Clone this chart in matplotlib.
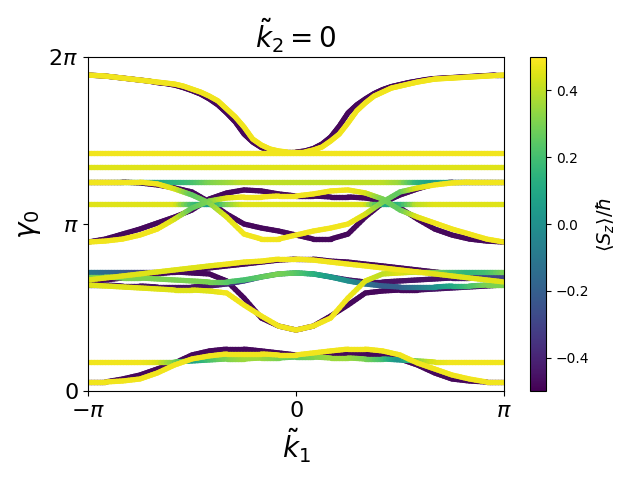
import numpy as np
import matplotlib
matplotlib.use("Agg")
import matplotlib.pyplot as plt
from matplotlib.collections import LineCollection
from matplotlib.colors import Normalize

# k1 sample positions in units of pi (step pi/12); top band read at step pi/24
k_over_pi = np.arange(-12, 13) / 12.0
k_top_over_pi = np.arange(-24, 25) / 24.0

# quasi-energies gamma_0 in units of pi; _up = spin up (yellow), _dn = spin down (purple)
top_up = [1.892,1.889,1.886,1.880,1.874,1.868,1.862,1.856,1.850,1.844,1.838,1.826,1.808,1.790,1.766,1.737,1.689,1.641,1.581,1.509,1.473,1.449,1.437,1.431,1.431,
          1.431,1.443,1.461,1.497,1.539,1.605,1.677,1.725,1.766,1.790,1.814,1.826,1.838,1.850,1.859,1.868,1.871,1.874,1.877,1.880,1.883,1.886,1.889,1.892]
top_dn = [1.892,1.889,1.886,1.880,1.874,1.868,1.862,1.856,1.847,1.841,1.832,1.817,1.799,1.778,1.749,1.713,1.665,1.611,1.539,1.491,1.458,1.440,1.431,1.431,1.431,
          1.437,1.452,1.479,1.521,1.587,1.665,1.713,1.749,1.781,1.805,1.823,1.835,1.847,1.856,1.865,1.871,1.874,1.877,1.880,1.883,1.886,1.889,1.892,1.892]

flat_a = 1.425
flat_b = 1.341
flat_c = 1.251
flat_d = 1.120
flat_c_spin = [0.40,0.45,0.20,0.10,0.10,0.15,0.20,0.30,0.35,0.40,0.40,0.40,0.40,0.40,0.40,0.40,0.40,0.40,0.35,0.15,0.05,0.15,0.30,0.35,0.35]
flat_d_spin = [0.45,0.45,0.45,0.45,0.45,0.45,0.20,0.05,0.30,0.45,0.45,0.45,0.45,0.45,0.45,0.45,0.45,0.10,0.15,0.40,0.45,0.45,0.45,0.45,0.45]

dip_up = [1.251,1.251,1.251,1.251,1.240,1.210,1.174,1.126,1.042,0.940,0.910,0.910,0.934,0.958,0.976,1.000,1.060,1.132,1.192,1.216,1.234,1.246,1.251,1.251,1.251]
dip_dn = [1.251,1.251,1.251,1.246,1.234,1.216,1.192,1.132,1.060,1.000,0.976,0.958,0.934,0.910,0.910,0.940,1.042,1.126,1.174,1.210,1.240,1.251,1.251,1.251,1.251]
hump_up = [0.892,0.898,0.910,0.934,0.970,1.030,1.096,1.138,1.156,1.162,1.162,1.168,1.168,1.180,1.198,1.204,1.186,1.150,1.084,1.042,1.006,0.970,0.940,0.910,0.892]
hump_dn = [0.892,0.910,0.940,0.970,1.006,1.042,1.084,1.150,1.186,1.204,1.198,1.180,1.168,1.168,1.162,1.162,1.156,1.138,1.096,1.030,0.970,0.934,0.910,0.898,0.892]
cross_up_spin = [0.48,0.48,0.48,0.48,0.48,0.45,0.25,0.30,0.45,0.48,0.48,0.48,0.48,0.48,0.48,0.48,0.45,0.30,0.25,0.45,0.48,0.48,0.48,0.48,0.48]

ca_up = [0.665,0.677,0.689,0.701,0.713,0.725,0.737,0.749,0.760,0.772,0.778,0.790,0.790,0.784,0.772,0.760,0.749,0.737,0.725,0.713,0.701,0.689,0.677,0.665,0.653]
ca_dn = [0.653,0.665,0.677,0.689,0.701,0.713,0.725,0.737,0.749,0.760,0.772,0.784,0.790,0.790,0.778,0.772,0.760,0.749,0.737,0.725,0.713,0.701,0.689,0.677,0.665]
cd_up = [0.635,0.629,0.623,0.617,0.611,0.605,0.605,0.599,0.587,0.515,0.449,0.389,0.365,0.389,0.437,0.557,0.659,0.701,0.707,0.713,0.713,0.713,0.713,0.713,0.713]
cd_dn = [0.713,0.713,0.713,0.713,0.713,0.713,0.707,0.701,0.659,0.557,0.437,0.389,0.365,0.389,0.449,0.515,0.587,0.599,0.605,0.605,0.611,0.617,0.623,0.629,0.635]
cm_up = [0.683,0.683,0.677,0.677,0.671,0.665,0.659,0.653,0.653,0.665,0.683,0.701,0.707,0.701,0.683,0.659,0.641,0.629,0.623,0.623,0.623,0.629,0.629,0.635,0.635]
cm_dn = [0.635,0.635,0.629,0.629,0.623,0.623,0.623,0.629,0.641,0.659,0.683,0.701,0.707,0.701,0.683,0.665,0.653,0.653,0.659,0.665,0.671,0.677,0.677,0.683,0.683]
cd_up_spin = [0.45,0.45,0.45,0.45,0.45,0.45,0.45,0.45,0.48,0.48,0.48,0.48,0.48,0.48,0.48,0.48,0.45,0.40,0.45,0.40,0.30,0.20,0.15,0.20,0.30]
cd_dn_spin = [-0.10,-0.15,-0.20,-0.30,-0.40,-0.45,-0.48,-0.48,-0.48,-0.48,-0.48,-0.48,-0.48,-0.48,-0.48,-0.48,-0.48,-0.48,-0.48,-0.48,-0.45,-0.45,-0.45,-0.45,-0.45]
cm_up_spin = [0.30,0.30,0.30,0.30,0.30,0.30,0.30,0.30,0.25,0.20,0.25,0.30,0.25,0.15,0.05,0.00,-0.10,-0.20,-0.20,-0.10,0.00,0.10,0.20,0.30,0.30]
cm_dn_spin = [-0.30,-0.40,-0.45,-0.45,-0.45,-0.45,-0.45,-0.45,-0.40,-0.30,-0.20,-0.10,0.00,-0.10,-0.30,-0.45,-0.45,-0.45,-0.45,-0.45,-0.45,-0.45,-0.40,-0.30,-0.30]
ca_up_spin = [0.45,0.45,0.45,0.45,0.45,0.45,0.45,0.45,0.48,0.48,0.48,0.48,0.48,0.48,0.48,0.48,0.48,0.48,0.48,0.48,0.45,0.45,0.45,0.45,0.45]

low_up = [0.054,0.054,0.060,0.072,0.108,0.156,0.192,0.210,0.222,0.222,0.222,0.216,0.216,0.228,0.240,0.251,0.251,0.240,0.216,0.168,0.132,0.096,0.072,0.054,0.054]
low_dn = [0.054,0.054,0.072,0.096,0.132,0.168,0.216,0.240,0.251,0.251,0.240,0.228,0.216,0.216,0.222,0.222,0.222,0.210,0.192,0.156,0.108,0.072,0.060,0.054,0.054]
low_flat = [0.174,0.174,0.174,0.174,0.174,0.174,0.180,0.186,0.192,0.192,0.198,0.198,0.204,0.204,0.198,0.198,0.192,0.192,0.186,0.180,0.174,0.174,0.174,0.174,0.174]
low_flat_spin = [0.48,0.48,0.48,0.48,0.45,0.30,0.05,0.20,0.30,0.35,0.35,0.30,0.25,0.30,0.35,0.35,0.30,0.20,0.00,0.30,0.45,0.48,0.48,0.48,0.48]

spin_up = 0.48
spin_dn = -0.48

segs = []
vals = []
NSUB = 6

def add(g, s, k=k_over_pi):
    k = np.asarray(k, float)
    g = np.broadcast_to(np.asarray(g, float), k.shape)
    s = np.broadcast_to(np.asarray(s, float), k.shape)
    pts = np.column_stack([k * np.pi, g * np.pi])
    for i in range(len(pts) - 1):
        # split each straight segment only to shade its colour smoothly
        for j in range(NSUB):
            a, b = j / NSUB, (j + 1) / NSUB
            p0 = pts[i] + a * (pts[i + 1] - pts[i])
            p1 = pts[i] + b * (pts[i + 1] - pts[i])
            segs.append(np.array([p0, p1]))
            m = 0.5 * (a + b)
            vals.append(s[i] + m * (s[i + 1] - s[i]))

# purple (spin down) first
add(top_dn, spin_dn, k_top_over_pi)
add(dip_dn, spin_dn)
add(hump_dn, spin_dn)
add(cd_dn, cd_dn_spin)
add(ca_dn, spin_dn)
add(cm_dn, cm_dn_spin)
add(low_dn, spin_dn)
# flat bands
add(flat_a, spin_up)
add(flat_b, 0.45)
add(flat_c, flat_c_spin)
add(flat_d, flat_d_spin)
add(low_flat, low_flat_spin)
# yellow (spin up)
add(top_up, spin_up, k_top_over_pi)
add(hump_up, cross_up_spin)
add(dip_up, cross_up_spin)
add(cm_up, cm_up_spin)
add(cd_up, cd_up_spin)
add(ca_up, ca_up_spin)
add(low_up, spin_up)

fig = plt.figure(figsize=(6.4, 4.8), dpi=100)
ax = fig.add_axes([0.1375, 0.1854, 0.65, 0.6958])
lc = LineCollection(segs, cmap="viridis", norm=Normalize(-0.5, 0.5),
                    linewidths=3.8, capstyle="round")
lc.set_array(np.array(vals))
ax.add_collection(lc)
ax.set_xlim(-np.pi, np.pi)
ax.set_ylim(0, 2 * np.pi)
ax.set_xticks([-np.pi, 0, np.pi])
ax.set_xticklabels([r"$-\pi$", r"$0$", r"$\pi$"], fontsize=16)
ax.set_yticks([0, np.pi, 2 * np.pi])
ax.set_yticklabels([r"$0$", r"$\pi$", r"$2\pi$"], fontsize=16)
ax.set_xlabel(r"$\tilde{k}_1$", fontsize=20)
ax.set_ylabel(r"$\gamma_0$", fontsize=20)
ax.set_title(r"$\tilde{k}_2 = 0$", fontsize=20)

cax = fig.add_axes([0.828, 0.1854, 0.025, 0.6958])
cb = fig.colorbar(lc, cax=cax)
cb.set_label(r"$\langle S_z\rangle/\hbar$", fontsize=14)

fig.savefig("out.png", dpi=100)
